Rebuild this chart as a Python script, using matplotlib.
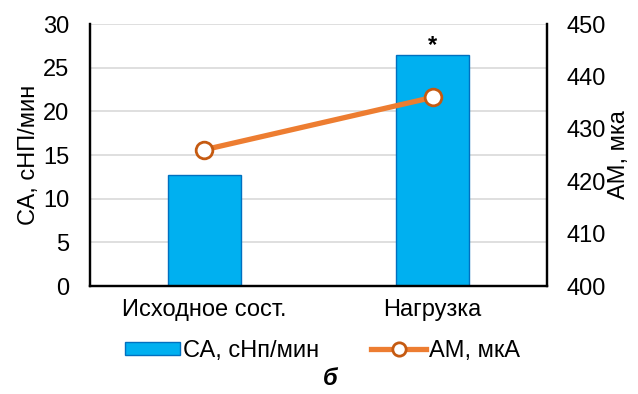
import matplotlib.pyplot as plt
import numpy as np

plt.rcParams['font.family'] = ['Liberation Sans', 'DejaVu Sans']

categories = ['Исходное сост.', 'Нагрузка']
ca_values = [12.7, 26.4]      # СА, сНп/мин
am_values = [426, 436]        # АМ, мкА
stars = ['', '*']

fig = plt.figure(figsize=(6.38, 3.94), dpi=100)
ax = fig.add_axes([0.141, 0.274, 0.716, 0.665])
ax2 = ax.twinx()

x = np.arange(len(categories))
ax.bar(x, ca_values, width=0.32, color='#00B0F0', edgecolor='#0070C0',
       linewidth=1, label='СА, сНп/мин', zorder=2)
for xi, v, s in zip(x, ca_values, stars):
    if s:
        ax.text(xi, v - 0.2, s, ha='center', va='bottom', fontsize=17,
                fontweight='bold')

ax2.plot(x, am_values, color='#ED7D31', linewidth=3.8, marker='o', markersize=12,
         markerfacecolor='white', markeredgecolor='#C55A11', markeredgewidth=2,
         label='АМ, мкА', zorder=3)

ax.set_xlim(-0.5, 1.5)
ax.set_ylim(0, 30)
ax.set_yticks(range(0, 31, 5))
ax2.set_ylim(400, 450)
ax2.set_yticks(range(400, 451, 10))

ax.set_xticks(x)
ax.set_xticklabels(categories)
ax.tick_params(axis='y', length=0, labelsize=17, pad=15)
ax.tick_params(axis='x', length=0, labelsize=17, pad=9)
ax2.tick_params(axis='y', length=0, labelsize=17, pad=14)

ax.yaxis.grid(True, color='#D9D9D9', linewidth=1.2, zorder=0)
ax.set_axisbelow(True)

for a in (ax, ax2):
    a.spines['top'].set_visible(False)
    for s in ('left', 'bottom', 'right'):
        a.spines[s].set_color('black')
        a.spines[s].set_linewidth(1.6)

ax.set_ylabel('СА, сНП/мин', fontsize=17, labelpad=2)
ax2.set_ylabel('АМ, мка', fontsize=17, labelpad=2)

h1, l1 = ax.get_legend_handles_labels()
h2, l2 = ax2.get_legend_handles_labels()
fig.legend(h1 + h2, l1 + l2, loc='center', bbox_to_anchor=(0.506, 0.11), ncol=2,
           frameon=False, fontsize=17, handlelength=2.3, columnspacing=2.2,
           handletextpad=0.15, handleheight=0.5, markerscale=0.8)

fig.text(0.517, 0.022, 'б', fontsize=17, fontweight='bold', fontstyle='italic',
         ha='center', va='baseline')

fig.savefig('out.png', dpi=100)
